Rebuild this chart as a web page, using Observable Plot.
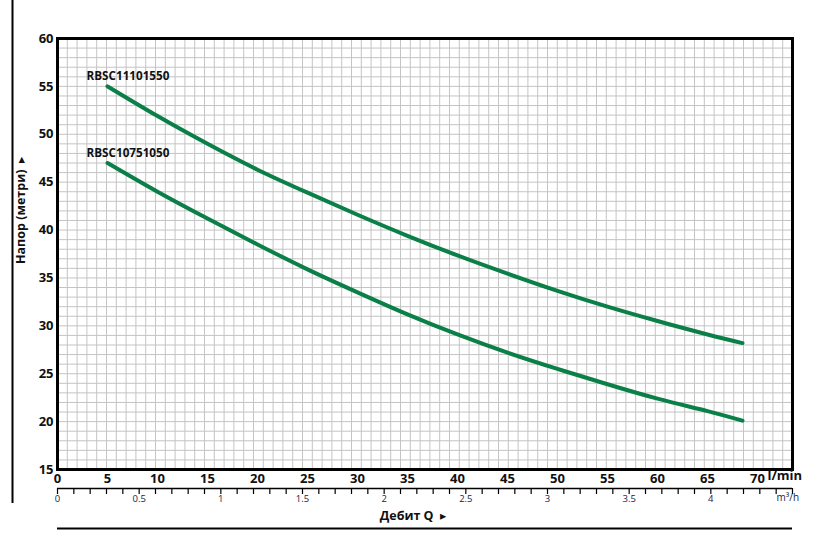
<!DOCTYPE html>
<html>
<head>
<meta charset="utf-8">
<script src="https://cdn.jsdelivr.net/npm/d3@7"></script>
<script src="https://cdn.jsdelivr.net/npm/@observablehq/plot@0.6"></script>
<style>
  html, body { margin: 0; padding: 0; background: #fff; }
  #chart svg { display: block; }
</style>
</head>
<body>
<div id="chart"></div>
<script>
// ---- Data ----
const flow = [5, 10, 15, 20, 25, 30, 35, 40, 45, 50, 55, 60, 65, 68.5]; // l/min
const headRBSC11101550 = [55.0, 51.9, 49.0, 46.3, 43.9, 41.6, 39.4, 37.35, 35.45, 33.65, 32.0, 30.5, 29.1, 28.2];
const headRBSC10751050 = [47.0, 44.0, 41.2, 38.5, 35.9, 33.5, 31.2, 29.1, 27.2, 25.5, 23.9, 22.4, 21.1, 20.1];
const seriesNames = ["RBSC11101550", "RBSC10751050"];
const xTickValues = [0, 5, 10, 15, 20, 25, 30, 35, 40, 45, 50, 55, 60, 65, 70];
const yTickValues = [15, 20, 25, 30, 35, 40, 45, 50, 55, 60];
const m3hLabelValues = [0, 0.5, 1, 1.5, 2, 2.5, 3, 3.5, 4];
const m3hTickValues = d3.range(0, 46).map(i => i / 10);
const xUnit = "l/min";
const m3hUnit = "m³/h";
const yTitle = "Напор (метри)  ▸";
const xTitle = "Дебит Q  ▸";

// ---- Build table ----
const heads = [headRBSC11101550, headRBSC10751050];
const rows = [];
heads.forEach((arr, s) => {
  arr.forEach((h, i) => rows.push({series: seriesNames[s], q: flow[i], h}));
});
const firstPoints = seriesNames.map((name, s) => ({series: name, q: flow[0], h: heads[s][0]}));

const xMax = 73.5;           // frame extends past 70
const m3hMax = 4.5;          // secondary axis spans the frame
const toX = v => v * xMax / m3hMax;
const gridX = d3.range(0, 76).map(i => i * xMax / 75);
const gridY = d3.range(15, 61);

const font = "'Open Sans', 'DejaVu Sans', sans-serif";
const green = "#0a7f47";

const chart = Plot.plot({
  width: 827,
  height: 534,
  marginLeft: 57,
  marginRight: 35,
  marginTop: 38,
  marginBottom: 65,
  style: {fontFamily: font, background: "#fff", color: "#111"},
  x: {domain: [0, xMax], axis: null},
  y: {domain: [15, 60], axis: null},
  marks: [
    Plot.ruleX(gridX, {stroke: "#c4c4c4", strokeWidth: 1}),
    Plot.ruleY(gridY, {stroke: "#c4c4c4", strokeWidth: 1}),
    Plot.line(rows, {x: "q", y: "h", z: "series", stroke: green, strokeWidth: 4, curve: "natural"}),
    Plot.text(firstPoints, {x: "q", y: "h", text: "series", textAnchor: "start", dx: -21, dy: -10,
      fontSize: 11.7, fontWeight: 700, fill: "#111"}),
    Plot.frame({stroke: "black", strokeWidth: 3}),
    // primary axes
    Plot.axisX(xTickValues, {anchor: "bottom", label: null, tickSize: 0, tickPadding: 4, fontSize: 13, fontWeight: 700, fill: "#111"}),
    Plot.axisY(yTickValues, {anchor: "left", label: null, tickSize: 0, tickPadding: 4, fontSize: 13, fontWeight: 700, fill: "#111"}),
    Plot.text([xUnit], {frameAnchor: "bottom-right", textAnchor: "start", dx: -25, dy: 10, fontSize: 13, fontWeight: 700, fill: "#111"}),
    // secondary m3/h axis
    Plot.ruleY([15], {dy: 19, stroke: "black", strokeWidth: 1.5}),
    Plot.axisX(m3hTickValues.map(toX), {anchor: "bottom", label: null, dy: 19, tickSize: 6, tickFormat: () => "", stroke: "black", strokeWidth: 1.2}),
    Plot.axisX(m3hLabelValues.map(toX), {anchor: "bottom", label: null, dy: 19, tickSize: 0, tickPadding: 7,
      tickFormat: (d, i) => String(m3hLabelValues[i]), fontSize: 9.5, fill: "#22224a"}),
    Plot.text([m3hUnit], {frameAnchor: "bottom-right", textAnchor: "start", dx: -16, dy: 31, fontSize: 10, fill: "#22224a"}),
    // titles
    Plot.text([xTitle], {frameAnchor: "bottom", dx: -12, dy: 50, fontSize: 12.5, fontWeight: 700, fill: "#111"}),
    Plot.text([yTitle], {frameAnchor: "left", rotate: -90, dx: -37, dy: 10, fontSize: 12.5, fontWeight: 700, fill: "#111"}),
    // decorative rules
    Plot.ruleY([15], {dy: 59, stroke: "black", strokeWidth: 2}),
    Plot.ruleX([0], {dx: -45, insetTop: -38, insetBottom: -34, stroke: "black", strokeWidth: 2})
  ]
});
document.getElementById("chart").appendChild(chart);
</script>
</body>
</html>
